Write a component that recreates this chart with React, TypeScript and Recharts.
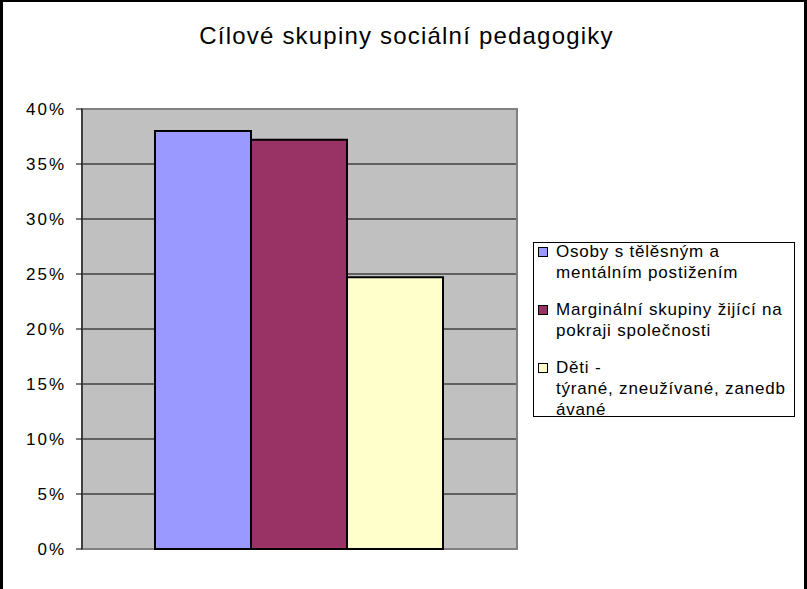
import { BarChart, Bar, XAxis, YAxis, CartesianGrid, Legend, ReferenceArea } from "recharts";

const categories = ["Cílové skupiny"];
const seriesNames = [
  "Osoby s tělěsným a\nmentálním postižením",
  "Marginální skupiny žijící na\npokraji společnosti",
  "Děti -\ntýrané, zneužívané, zanedb\návané",
];
const seriesValues = [0.38, 0.372, 0.247];
const seriesColors = ["#9999FF", "#993366", "#FFFFCC"];
const yTicks = [0, 0.05, 0.1, 0.15, 0.2, 0.25, 0.3, 0.35, 0.4];

const keys = seriesValues.map((_, i) => `s${i}`);
const data = categories.map((c) => {
  const row: Record<string, string | number> = { name: c };
  keys.forEach((k, i) => (row[k] = seriesValues[i]));
  return row;
});

const FONT = "'Liberation Sans', Arial, sans-serif";

function LegendBox({ payload }: { payload?: { value?: string; color?: string }[] }) {
  // keep series order (recharts sorts legend items by name)
  const items = [...(payload ?? [])].sort(
    (a, b) => seriesNames.indexOf(a.value ?? "") - seriesNames.indexOf(b.value ?? "")
  );
  return (
    <div
      style={{
        width: 262,
        height: 175,
        border: "1px solid #000",
        background: "#fff",
        overflow: "hidden",
        fontFamily: FONT,
        fontSize: 17,
        letterSpacing: 0.8,
        color: "#000",
        boxSizing: "border-box",
        paddingTop: 0,
      }}
    >
      {items.map((p, i) => (
        <div key={i} style={{ display: "flex", alignItems: "flex-start", marginBottom: 16, marginTop: i === 0 ? -2 : 0 }}>
          <div
            style={{
              width: 8,
              height: 8,
              border: "1px solid #000",
              background: p.color,
              marginLeft: 4,
              marginRight: 8,
              marginTop: 6,
              flexShrink: 0,
            }}
          />
          <div style={{ whiteSpace: "pre", lineHeight: "21px" }}>{p.value}</div>
        </div>
      ))}
    </div>
  );
}

export default function App() {
  return (
    <div
      style={{
        position: "absolute",
        left: 0,
        top: 0,
        width: 807,
        height: 589,
        background: "#fff",
        boxSizing: "border-box",
        borderLeft: "3px solid #000",
        borderTop: "2px solid #000",
        borderRight: "3px solid #000",
        fontFamily: FONT,
      }}
    >
      <div
        style={{
          position: "absolute",
          left: 0,
          width: 807,
          top: 20,
          textAlign: "center",
          fontSize: 24,
          letterSpacing: 1.2,
          color: "#000",
        }}
      >
        Cílové skupiny sociální pedagogiky
      </div>
      <div style={{ position: "absolute", left: -3, top: -2 }}>
        <BarChart
          width={807}
          height={589}
          data={data}
          margin={{ top: 109, right: 290, bottom: 40, left: 0 }}
          barGap={0}
          barCategoryGap={73}
        >
          <CartesianGrid fill="#C0C0C0" stroke="#000" vertical={false} horizontal strokeOpacity={1} />
          <ReferenceArea y1={0} y2={0.4} fill="none" stroke="#808080" strokeWidth={2} ifOverflow="visible" />
          <XAxis dataKey="name" hide />
          <YAxis
            width={82}
            domain={[0, 0.4]}
            ticks={yTicks}
            interval={0}
            axisLine={{ stroke: "#000" }}
            tickLine={{ stroke: "#000" }}
            tickSize={6}
            tick={{ fill: "#000", fontSize: 17, fontFamily: FONT, letterSpacing: 2 }}
            tickFormatter={(v: number) => `${Math.round(v * 100)}%`}
            dx={-8}
          />
          <Legend
            layout="vertical"
            align="center"
            verticalAlign="middle"
            content={<LegendBox />}
            wrapperStyle={{ left: 533, top: 242, width: 262, height: 175 }}
          />
          {keys.map((k, i) => (
            <Bar
              key={k}
              dataKey={k}
              name={seriesNames[i]}
              fill={seriesColors[i]}
              stroke="#000"
              strokeWidth={2}
              isAnimationActive={false}
            />
          ))}
        </BarChart>
      </div>
    </div>
  );
}
